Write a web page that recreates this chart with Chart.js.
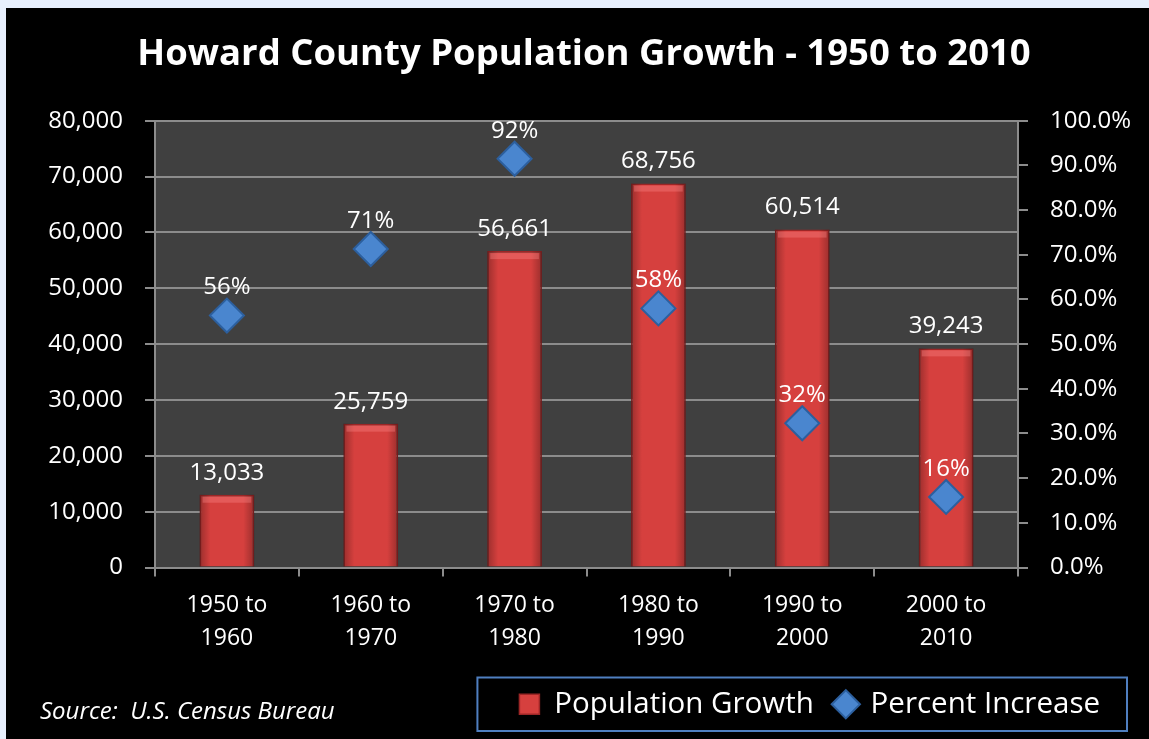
<!DOCTYPE html>
<html>
<head>
<meta charset="utf-8">
<script src="https://cdn.jsdelivr.net/npm/chart.js@4"></script>
<style>
  html, body { margin: 0; padding: 0; background: #e8f0fd; }
  #wrap { position: absolute; left: 6px; top: 8px; width: 1143px; height: 731px; background: #000; }
  #source { position: absolute; left: 34px; top: 685px; color: #fff; font: italic 24px "Open Sans", sans-serif; }
</style>
</head>
<body>
<div id="wrap">
  <canvas id="popChart" width="1143" height="731"></canvas>
  <div id="source">Source:&nbsp; U.S. Census Bureau</div>
</div>
<script>
// Howard County - population growth by decade
const categories = [['1950 to', '1960'], ['1960 to', '1970'], ['1970 to', '1980'], ['1980 to', '1990'], ['1990 to', '2000'], ['2000 to', '2010']];
const growth = [13033, 25759, 56661, 68756, 60514, 39243];
const percentIncrease = [56.4, 71.3, 91.5, 58.0, 32.3, 15.8];
const pctLabels = ['56%', '71%', '92%', '58%', '32%', '16%'];

const FONT = '"Open Sans", sans-serif';
const GRID = '#8c8c8c';

// plot area background
const plotBg = {
  id: 'plotBg',
  beforeDraw(chart) {
    const a = chart.chartArea, c = chart.ctx;
    c.save();
    c.fillStyle = '#404040';
    c.fillRect(a.left, a.top, a.right - a.left, a.bottom - a.top);
    c.restore();
  }
};

// a bit of shading on the bars (darker sides, light top edge)
const barShade = {
  id: 'barShade',
  afterDatasetDraw(chart, args) {
    if (args.index !== 1) return;
    const c = chart.ctx;
    c.save();
    args.meta.data.forEach(el => {
      const l = el.x - el.width / 2, r = el.x + el.width / 2;
      const g = c.createLinearGradient(l, 0, r, 0);
      g.addColorStop(0, 'rgba(0,0,0,0.28)');
      g.addColorStop(0.2, 'rgba(0,0,0,0)');
      g.addColorStop(0.8, 'rgba(0,0,0,0)');
      g.addColorStop(1, 'rgba(0,0,0,0.28)');
      c.fillStyle = g;
      c.fillRect(l, el.y, el.width, el.base - el.y);
      c.fillStyle = 'rgba(255,140,140,0.35)';
      c.fillRect(l + 3, el.y + 2, el.width - 6, 6);
    });
    c.restore();
  }
};

// value labels over bars and diamonds
const valueLabels = {
  id: 'valueLabels',
  afterDatasetsDraw(chart) {
    const c = chart.ctx;
    c.save();
    c.fillStyle = '#fff';
    c.font = '24px ' + FONT;
    c.textAlign = 'center';
    c.textBaseline = 'bottom';
    chart.getDatasetMeta(1).data.forEach((el, i) => {
      c.fillText(growth[i].toLocaleString('en-US'), el.x, el.y - 10);
    });
    chart.getDatasetMeta(0).data.forEach((el, i) => {
      c.fillText(pctLabels[i], el.x, el.y - 16);
    });
    c.restore();
  }
};

// pull the legend in from the right edge a little
const legendShift = {
  id: 'legendShift',
  afterLayout(chart) {
    chart.legend.right -= 27;
  }
};

// border round the legend
const legendBox = {
  id: 'legendBox',
  afterDraw(chart) {
    const boxes = chart.legend.legendHitBoxes;
    if (!boxes || !boxes.length) return;
    const first = boxes[0], last = boxes[boxes.length - 1];
    const c = chart.ctx;
    c.save();
    c.strokeStyle = '#4f7fc0';
    c.lineWidth = 2;
    c.strokeRect(first.left - 42, first.top - 12, last.left + last.width - first.left + 69, first.height + 24);
    c.restore();
  }
};

new Chart(document.getElementById('popChart'), {
  data: {
    labels: categories,
    datasets: [
      {
        type: 'line',
        label: 'Percent Increase',
        data: percentIncrease,
        yAxisID: 'y1',
        showLine: false,
        pointStyle: 'rectRot',
        pointRadius: 17,
        pointHoverRadius: 17,
        pointBackgroundColor: '#4a86cf',
        pointBorderColor: '#2c5f9e',
        pointBorderWidth: 2,
        backgroundColor: '#4a86cf',
        borderColor: '#2c5f9e',
        order: 0
      },
      {
        type: 'bar',
        label: 'Population Growth',
        data: growth,
        yAxisID: 'y',
        backgroundColor: '#d6403e',
        borderColor: '#9c2626',
        borderWidth: 1.5,
        pointStyle: 'rect',
        barPercentage: 0.38,
        categoryPercentage: 1,
        order: 1
      }
    ]
  },
  options: {
    responsive: false,
    animation: false,
    layout: { padding: { left: 13, right: 0, top: 0, bottom: 10 } },
    plugins: {
      title: {
        display: true,
        text: 'Howard County Population Growth - 1950 to 2010',
        color: '#fff',
        font: { family: FONT, size: 36.5, weight: 'bold', lineHeight: 1.2 },
        padding: { top: 25, bottom: 44 }
      },
      legend: {
        position: 'bottom',
        align: 'end',
        reverse: true,
        labels: {
          color: '#fff',
          font: { family: FONT, size: 29.5 },
          usePointStyle: true,
          boxWidth: 20,
          boxHeight: 20,
          padding: 22
        }
      },
      tooltip: { enabled: false }
    },
    scales: {
      x: {
        afterFit: s => { s.height = 100; },
        grid: { display: true, drawOnChartArea: false, color: GRID, lineWidth: 2, tickLength: 9 },
        border: { color: GRID, width: 2 },
        ticks: { color: '#fff', font: { family: FONT, size: 23, lineHeight: 1.45 }, padding: 12, maxRotation: 0 }
      },
      y: {
        position: 'left',
        min: 0, max: 80000,
        afterFit: s => { s.width = 136; },
        grid: { color: GRID, lineWidth: 2, tickLength: 10 },
        border: { color: GRID, width: 2 },
        ticks: {
          stepSize: 10000,
          color: '#fff',
          font: { family: FONT, size: 24 },
          padding: 22,
          callback: v => v.toLocaleString('en-US')
        }
      },
      y1: {
        position: 'right',
        min: 0, max: 100,
        afterFit: s => { s.width = 131; },
        grid: { drawOnChartArea: false, color: GRID, lineWidth: 2, tickLength: 10 },
        border: { color: GRID, width: 2 },
        ticks: {
          stepSize: 10,
          color: '#fff',
          font: { family: FONT, size: 24 },
          padding: 22,
          callback: v => v.toFixed(1) + '%'
        }
      }
    }
  },
  plugins: [plotBg, barShade, valueLabels, legendShift, legendBox]
});
</script>
</body>
</html>
